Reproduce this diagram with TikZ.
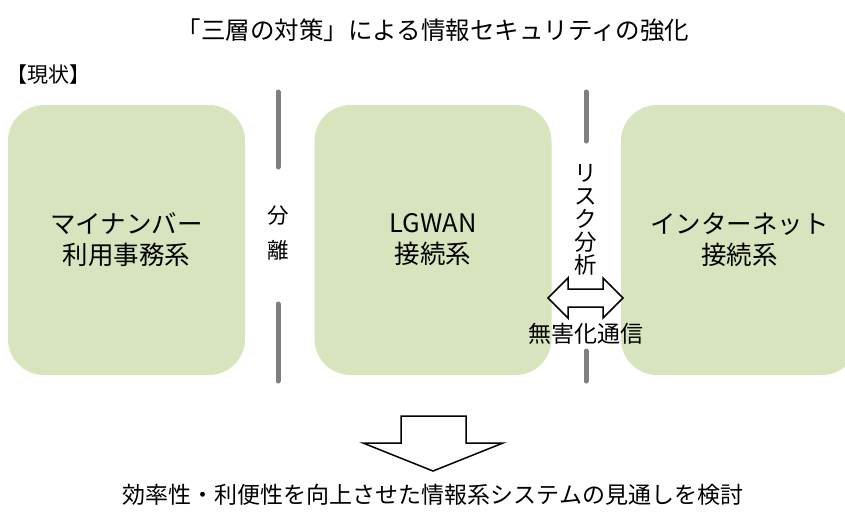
\documentclass[tikz,border=0pt]{standalone}
\usepackage{fontspec}
\setmainfont{Noto Sans CJK JP}
\definecolor{zonegreen}{HTML}{D7E4BD}
\definecolor{dividergray}{HTML}{7F7F7F}
\begin{document}
\begin{tikzpicture}[x=1pt,y=-1pt,
    zone/.style={fill=zonegreen,rounded corners=36pt,minimum width=237pt,minimum height=270pt,
      inner sep=0pt,align=center,font=\fontsize{25.5}{31}\selectfont},
    divider/.style={draw=dividergray,line width=5pt,line cap=round},
    blockarrow/.style={draw=black,fill=white,line width=1.5pt,line join=miter}]
    \useasboundingbox (0,0) rectangle (845,512);
    % title and heading
    \node (title) at (433,30) {\fontsize{24.5}{29}\selectfont 「三層の対策」による情報セキュリティの強化};
    \node[anchor=west,inner sep=0pt] (now) at (6,75) {\fontsize{21}{25}\selectfont 【現状】};
    % the three zones
    \node[zone] (mynumber) at (126.5,240) {マイナンバー\\利用事務系};
    \node[zone] (lgwan) at (433,240) {LGWAN\\接続系};
    \node[zone] (internet) at (739.5,240) {インターネット\\接続系};
    % dividers
    \draw[divider] (278,92) -- (278,167);
    \draw[divider] (278,304) -- (278,381);
    \draw[divider] (586,92) -- (586,141);
    \draw[divider] (586,351) -- (586,381);
    \node[align=center,font=\fontsize{21.5}{35}\selectfont] (split) at (278,233) {分\\離};
    \node[align=center,font=\fontsize{22.5}{23}\selectfont] (risk) at (586,220) {リ\\ス\\ク\\分\\析};
    % sanitised exchange
    \draw[blockarrow] (548,298) -- (568,278) -- (568,289) -- (603,289) -- (603,278) -- (623,298)
      -- (603,318) -- (603,307) -- (568,307) -- (568,318) -- cycle;
    \node[font=\fontsize{23}{28}\selectfont] (clean) at (586,334) {無害化通信};
    % outcome
    \draw[blockarrow] (401,416) -- (466,416) -- (466,443) -- (503,443) -- (433,471)
      -- (363,443) -- (401,443) -- cycle;
    \node[font=\fontsize{23}{28}\selectfont] (result) at (433,495) {効率性・利便性を向上させた情報系システムの見通しを検討};
\end{tikzpicture}
\end{document}
